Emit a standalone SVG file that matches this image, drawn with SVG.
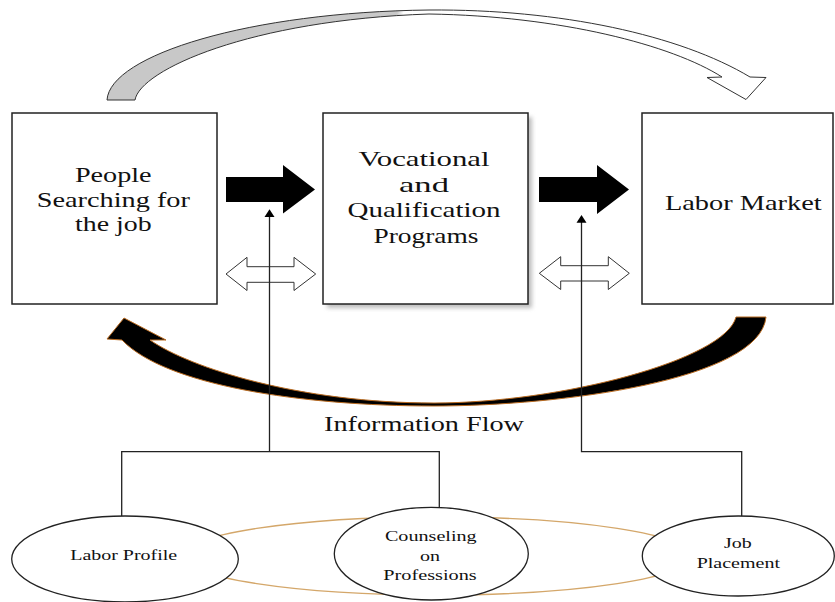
<svg xmlns="http://www.w3.org/2000/svg" width="835" height="602" viewBox="0 0 835 602">
<style>
.box{fill:#fff;stroke:#222;stroke-width:1.5}
.t{fill:#111;text-anchor:middle}
.big{font-size:21px}
.sm{font-size:14px}
.blk{fill:#000}
.dbl{fill:#fff;stroke:#333;stroke-width:1}
.ln{fill:none;stroke:#222;stroke-width:1.3}
.ell{fill:#fff;stroke:#222;stroke-width:1.3}
</style>
<defs>
<linearGradient id="topg" gradientUnits="userSpaceOnUse" x1="107" y1="0" x2="766" y2="0">
<stop offset="0" stop-color="#c8c8c8"/>
<stop offset="0.44" stop-color="#c8c8c8"/>
<stop offset="0.45" stop-color="#ffffff"/>
<stop offset="1" stop-color="#ffffff"/>
</linearGradient>
<filter id="sh" x="-10%" y="-10%" width="130%" height="130%">
<feGaussianBlur stdDeviation="2"/>
</filter>
</defs>
<rect width="835" height="602" fill="#fff"/>

<g id="cycle-ellipse">
<ellipse cx="437" cy="556" rx="255" ry="39" fill="none" stroke="#d4a76a" stroke-width="1.3"/>
</g>

<g id="connectors">
<path id="top-arrow" d="M107,100 C110,55 250,12 429,10 C560,9 680,35 750,77 L766,77.5 L746,99.5 L707,77.5 L722,77 C672,45 560,16 429,14 C250,20 140,70 135,100 Z" fill="url(#topg)" stroke="#333" stroke-width="1"/>
<path id="info-arrow" d="M766,317 C760,380 560,406 434,406 C300,406 165,385 122,340 L107,339 L124,318 L166,340 L150,340 C190,368 300,403 434,403 C560,403 725,360 736,317 Z" fill="#000" stroke="#b86a20" stroke-width="1"/>
<path class="blk" d="M226,177 L283,177 L283,165 L315,189.5 L283,213.5 L283,202 L226,202 Z"/>
<path class="blk" d="M539,177 L597,177 L597,165 L629,189.5 L597,214 L597,202 L539,202 Z"/>
<path class="dbl" d="M226,274 L247,257.3 L247,266.7 L294,266.7 L294,257.3 L315.7,274 L294,290.5 L294,282.3 L247,282.3 L247,290.5 Z"/>
<path class="dbl" d="M539.3,273.3 L560.7,256.7 L560.7,265.7 L608.3,265.7 L608.3,256.7 L629.3,273.3 L608.3,289.5 L608.3,281 L560.7,281 L560.7,289.5 Z"/>
<path class="ln" d="M269.5,216 L269.5,451.7 M121.7,516 L121.7,451.7 L439.3,451.7 L439.3,507.3"/>
<path class="blk" d="M269.5,209.3 L264.5,217 L274.5,217 Z"/>
<path class="ln" d="M581.5,222 L581.5,451.7 L741.7,451.7 L741.7,516.7"/>
<path class="blk" d="M581.5,215 L576.5,222.7 L586.5,222.7 Z"/>
</g>

<g font-family="Liberation Serif, DejaVu Serif, Times New Roman, serif">
<g id="people">
<rect class="box" x="12" y="113" width="205" height="191"/>
<text class="t big" x="113.3" y="182" textLength="76.7" lengthAdjust="spacingAndGlyphs">People</text>
<text class="t big" x="113.3" y="206.5" textLength="153.3" lengthAdjust="spacingAndGlyphs">Searching for</text>
<text class="t big" x="113.3" y="231" textLength="76.7" lengthAdjust="spacingAndGlyphs">the job</text>
</g>

<g id="vocational">
<rect x="327" y="117" width="205" height="191" fill="#888" opacity="0.55" filter="url(#sh)"/>
<rect class="box" x="323" y="113" width="205" height="191"/>
<text class="t big" x="424" y="166" textLength="131" lengthAdjust="spacingAndGlyphs">Vocational</text>
<text class="t big" x="424" y="191.5" textLength="50" lengthAdjust="spacingAndGlyphs">and</text>
<text class="t big" x="424" y="217" textLength="153" lengthAdjust="spacingAndGlyphs">Qualification</text>
<text class="t big" x="426" y="242.5" textLength="105" lengthAdjust="spacingAndGlyphs">Programs</text>
</g>

<g id="labor-market">
<rect class="box" x="642" y="113" width="191" height="191"/>
<text class="t big" x="743.3" y="210" textLength="156.7" lengthAdjust="spacingAndGlyphs">Labor Market</text>
</g>

<g id="info-label">
<text class="t big" x="424" y="430.7" textLength="200" lengthAdjust="spacingAndGlyphs">Information Flow</text>
</g>

<g id="labor-profile">
<ellipse class="ell" cx="125" cy="559" rx="113.3" ry="43"/>
<text class="t sm" x="123.7" y="560" textLength="107" lengthAdjust="spacingAndGlyphs">Labor Profile</text>
</g>

<g id="counseling">
<ellipse class="ell" cx="431.3" cy="553.7" rx="97" ry="46.3"/>
<text class="t sm" x="430.8" y="540.7" textLength="91.7" lengthAdjust="spacingAndGlyphs">Counseling</text>
<text class="t sm" x="430" y="560.7" textLength="20" lengthAdjust="spacingAndGlyphs">on</text>
<text class="t sm" x="430" y="580" textLength="93.3" lengthAdjust="spacingAndGlyphs">Professions</text>
</g>

<g id="job-placement">
<ellipse class="ell" cx="738.3" cy="556" rx="96" ry="40"/>
<text class="t sm" x="737.8" y="548.3" textLength="27.7" lengthAdjust="spacingAndGlyphs">Job</text>
<text class="t sm" x="738.3" y="568.3" textLength="83.3" lengthAdjust="spacingAndGlyphs">Placement</text>
</g>
</g>
</svg>
